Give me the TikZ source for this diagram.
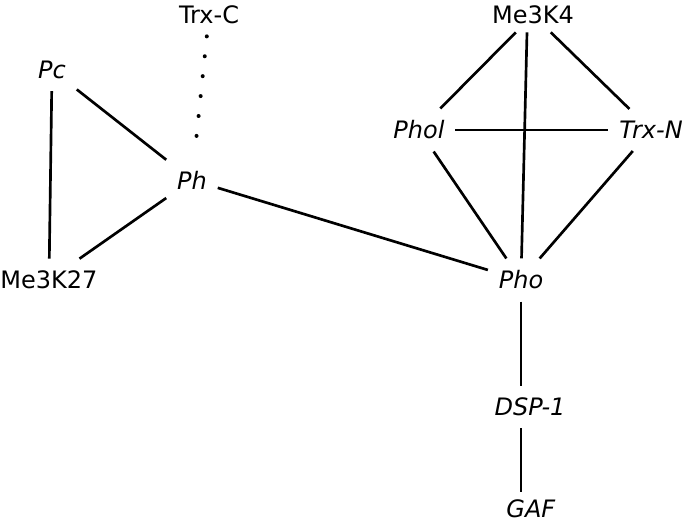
\documentclass[tikz,border=0pt]{standalone}
\usepackage{fontspec}
\setmainfont{DejaVu Sans}
\usepackage{tikz}

\begin{document}
\begin{tikzpicture}[x=0.75pt, y=-0.75pt, node distance=75pt]
		\tikzstyle{gene} = [rectangle, inner xsep=8pt, inner ysep=9pt, font=\fontsize{18}{22}\selectfont]
		
		\tikzstyle{link} = [line width=2pt]
		\tikzstyle{weaklink} = [line width=3pt, line cap=round, dash pattern=on 0.01pt off 15pt, shorten >=12pt]
		%-------------------------------------------------------
		% frame of the figure
		\useasboundingbox (0,0) rectangle (685,522);
		
		% left group
		\node (pc) [gene] at (52,70) {\textit{Pc}};
		\node (me27) [gene, below of = pc, xshift=-2.25pt, yshift=-82.5pt] {Me3K27};
		\node (ph) [gene, right of = pc, xshift=30pt, yshift=-82.5pt] {\textit{Ph}};
		\node (trxc) [gene, above of = ph, xshift=12.75pt, yshift=48.75pt] {Trx-C};
		
		% right group
		\node (pho) [gene, right of = ph, xshift=171.75pt, yshift=-75pt] {\textit{Pho}};
		\node (phol) [gene, above of = pho, xshift=-76.5pt, yshift=37.5pt] {\textit{Phol}};
		\node (trxn) [gene, right of = phol, xshift=99pt] {\textit{Trx-N}};
		\node (me4) [gene, above of = pho, xshift=9pt, yshift=123.75pt, inner ysep=6pt] {Me3K4};
		\node (dsp) [gene, below of = pho, xshift=6.75pt, yshift=-20.25pt] {\textit{DSP-1}};
		\node (gaf) [gene, below of = dsp, xshift=0.75pt, yshift=-1.5pt, inner ysep=6pt] {\textit{GAF}};
		
		\draw [link] (pc) -- (me27);
		\draw [link] (pc) -- (ph);
		\draw [link] (me27) -- (ph);
		\draw [weaklink] (trxc) -- (ph);
		\draw [link] (ph) -- (pho);
		
		\draw [link] (me4) -- (phol);
		\draw [link] (me4) -- (trxn);
		\draw [link] ([xshift=-4.5pt]me4.south) -- (pho);
		\draw [link] (phol) -- (trxn);
		\draw [link] (phol) -- (pho);
		\draw [link] (trxn) -- (pho);
		\draw [link] (pho.south) -- (pho.south |- dsp.north);
		\draw [link] (dsp.south -| pho.south) -- (pho.south |- gaf.north);
\end{tikzpicture}
\end{document}
